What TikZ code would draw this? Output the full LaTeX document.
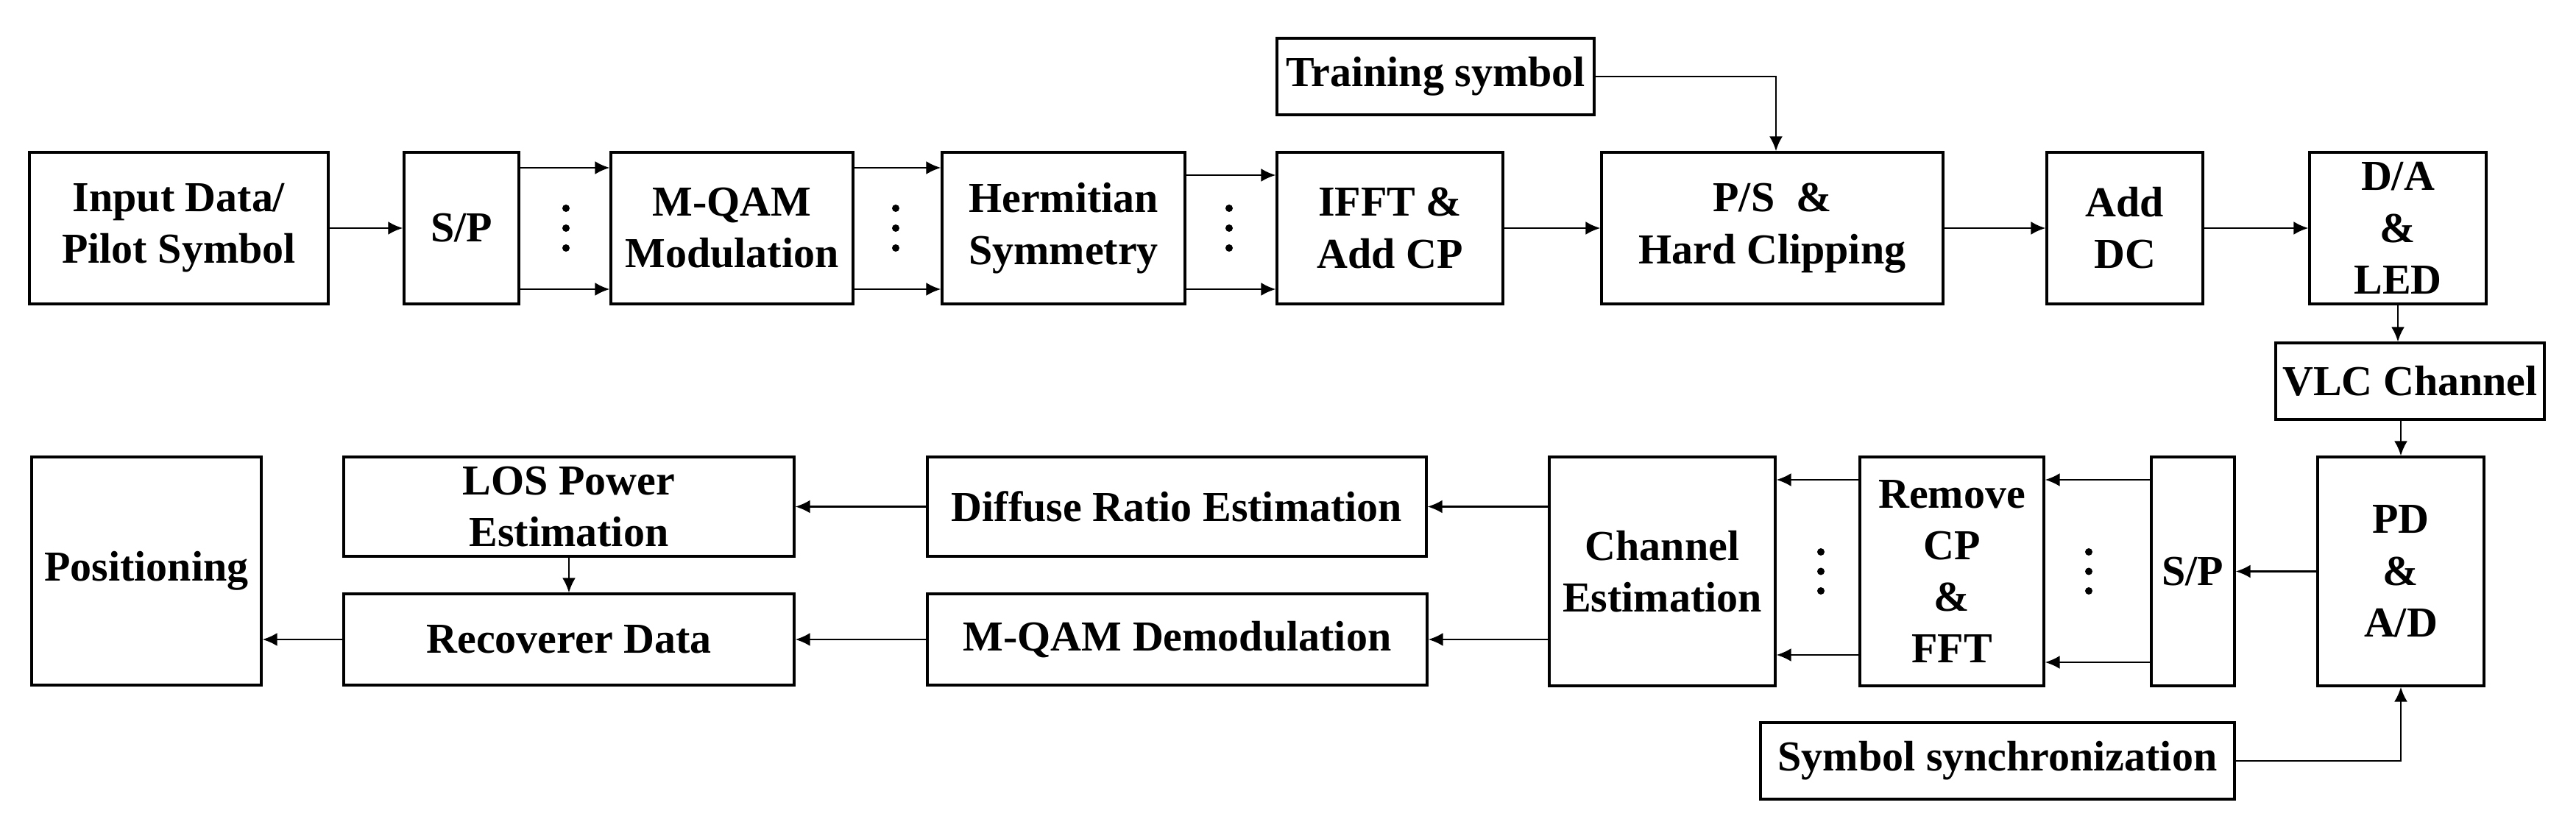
\documentclass[tikz,border=0pt]{standalone}
\usepackage{fontspec}
\setmainfont{Liberation Serif}
\usetikzlibrary{arrows.meta}
\begin{document}
\begin{tikzpicture}[
  box/.style={draw, line width=0.9pt, rectangle, inner sep=0pt, align=center,
              font=\bfseries\fontsize{16.5}{20}\selectfont},
  arr/.style={line width=0.8pt, -{Latex[length=2mm,width=1.8mm]}},
  dot/.style={fill=black}
]
\useasboundingbox (0,0) rectangle (35,-11.32);
% top row
\node[box, minimum width=4.06cm, minimum height=2.06cm] (inp) at (2.43,-3.10) {Input Data/\\Pilot Symbol};
\node[box, minimum width=1.56cm, minimum height=2.06cm] (sp1) at (6.27,-3.10) {S/P};
\node[box, minimum width=3.29cm, minimum height=2.06cm] (mqam) at (9.945,-3.10) {M-QAM\\Modulation};
\node[box, minimum width=3.30cm, minimum height=2.06cm] (herm) at (14.45,-3.10) {Hermitian\\Symmetry};
\node[box, minimum width=3.07cm, minimum height=2.06cm] (ifft) at (18.885,-3.10) {IFFT \&\\Add CP};
\node[box, minimum width=4.64cm, minimum height=2.06cm] (ps) at (24.08,-3.10) {P/S \ \&\\Hard Clipping};
\node[box, minimum width=2.12cm, minimum height=2.06cm] (adc) at (28.87,-3.10) {Add\\DC};
\node[box, minimum width=2.40cm, minimum height=2.06cm] (da) at (32.58,-3.10) {D/A\\\&\\LED};
\node[box, minimum width=4.31cm, minimum height=1.04cm] (train) at (19.505,-1.04) {Training symbol};
\node[box, minimum width=3.65cm, minimum height=1.04cm] (vlc) at (32.745,-5.18) {VLC Channel};
% bottom row
\node[box, minimum width=2.26cm, minimum height=3.11cm] (pd) at (32.62,-7.765) {PD\\\&\\A/D};
\node[box, minimum width=1.13cm, minimum height=3.11cm] (sp2) at (29.795,-7.765) {S/P};
\node[box, minimum width=2.50cm, minimum height=3.11cm] (rem) at (26.52,-7.765) {Remove\\CP\\\&\\FFT};
\node[box, minimum width=3.07cm, minimum height=3.11cm] (chan) at (22.585,-7.765) {Channel\\Estimation};
\node[box, minimum width=6.78cm, minimum height=1.35cm] (diff) at (15.99,-6.885) {Diffuse Ratio Estimation};
\node[box, minimum width=6.79cm, minimum height=1.24cm] (demod) at (15.995,-8.69) {M-QAM Demodulation};
\node[box, minimum width=6.12cm, minimum height=1.35cm] (los) at (7.73,-6.885) {LOS Power\\Estimation};
\node[box, minimum width=6.12cm, minimum height=1.24cm] (rec) at (7.73,-8.69) {Recoverer Data};
\node[box, minimum width=3.12cm, minimum height=3.10cm] (pos) at (1.99,-7.76) {Positioning};
\node[box, minimum width=6.44cm, minimum height=1.04cm] (sync) at (27.14,-10.34) {Symbol synchronization};
% dots
\foreach \x in {7.69,12.17,16.70} {
  \foreach \y in {-2.83,-3.10,-3.37} { \fill[dot] (\x,\y) circle (0.05); }
}
\foreach \x in {24.74,28.38} {
  \foreach \y in {-7.50,-7.765,-8.03} { \fill[dot] (\x,\y) circle (0.05); }
}
% top connectors
\draw[arr] (inp) -- (sp1);
\draw[arr] (sp1.east |- 0,-2.28) -- (mqam.west |- 0,-2.28);
\draw[arr] (sp1.east |- 0,-3.93) -- (mqam.west |- 0,-3.93);
\draw[arr] (mqam.east |- 0,-2.28) -- (herm.west |- 0,-2.28);
\draw[arr] (mqam.east |- 0,-3.93) -- (herm.west |- 0,-3.93);
\draw[arr] (herm.east |- 0,-2.38) -- (ifft.west |- 0,-2.38);
\draw[arr] (herm.east |- 0,-3.93) -- (ifft.west |- 0,-3.93);
\draw[arr] (ifft) -- (ps);
\draw[arr] (ps) -- (adc);
\draw[arr] (adc) -- (da);
\draw[arr] (train.east) -| ([xshift=0.05cm]ps.north);
\draw[arr] (da) -- (da |- vlc.north);
\draw[arr] (pd |- vlc.south) -- (pd);
\draw[arr] (sync.east) -| (pd.south);
% bottom connectors
\draw[arr] (pd) -- (sp2);
\draw[arr] (sp2.west |- 0,-6.52) -- (rem.east |- 0,-6.52);
\draw[arr] (sp2.west |- 0,-9.00) -- (rem.east |- 0,-9.00);
\draw[arr] (rem.west |- 0,-6.52) -- (chan.east |- 0,-6.52);
\draw[arr] (rem.west |- 0,-8.90) -- (chan.east |- 0,-8.90);
\draw[arr] (chan.west |- diff) -- (diff.east);
\draw[arr] (chan.west |- demod) -- (demod.east);
\draw[arr] (diff) -- (los);
\draw[arr] (demod) -- (rec);
\draw[arr] (rec) -- (pos.east |- rec);
\draw[arr] (los) -- (rec);
\end{tikzpicture}
\end{document}
